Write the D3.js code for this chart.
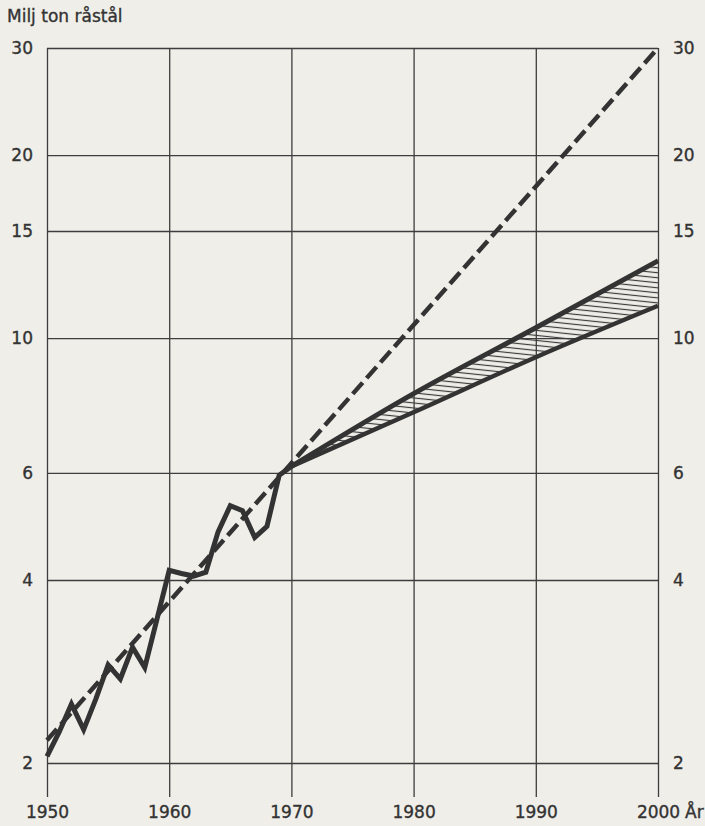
<!DOCTYPE html>
<html>
<head>
<meta charset="utf-8">
<script src="https://cdn.jsdelivr.net/npm/d3@7"></script>
<style>
  body { margin: 0; background: #efeee9; }
  text { font-family: "DejaVu Sans", sans-serif; fill: #333; stroke: #333; stroke-width: 0.35; }
  .grid line { stroke: #3d3d3d; stroke-width: 1.3; }
  .grid path { display: none; }
</style>
</head>
<body>
<div id="chart"></div>
<script>
var svgWidth = 705;
var svgHeight = 826;

// data
var actualYears = [1950, 1951, 1952, 1953, 1954, 1955, 1956, 1957, 1958, 1959,
  1960, 1961, 1962, 1963, 1964, 1965, 1966, 1967, 1968, 1969, 1970];
var actualOutput = [2.05, 2.25, 2.5, 2.27, 2.55, 2.9, 2.75, 3.1, 2.87, 3.45,
  4.15, 4.1, 4.06, 4.12, 4.8, 5.3, 5.2, 4.7, 4.9, 5.95, 6.15];

var trendYears = [1950, 2000];
var trendOutput = [2.18, 30];

var projYears = [1970, 1980, 1990, 2000];
var projHigh = [6.15, 8.1, 10.4, 13.4];
var projLow = [6.15, 7.55, 9.3, 11.3];

var xTicks = [1950, 1960, 1970, 1980, 1990, 2000];
var yTicks = [2, 4, 6, 10, 15, 20, 30];

var plotLeft = 47, plotRight = 658, plotTop = 48, plotBottom = 763, gridBottom = 797;

var svg = d3.select("#chart")
  .append("svg")
  .attr("width", svgWidth)
  .attr("height", svgHeight);

svg.append("rect")
  .attr("width", svgWidth)
  .attr("height", svgHeight)
  .attr("fill", "#efeee9");

var defs = svg.append("defs");
var pat = defs.append("pattern")
  .attr("id", "hatch")
  .attr("patternUnits", "userSpaceOnUse")
  .attr("width", 12)
  .attr("height", 5)
  .attr("patternTransform", "rotate(6)");
pat.append("line")
  .attr("x1", 0).attr("y1", 2.5)
  .attr("x2", 12).attr("y2", 2.5)
  .attr("stroke", "#3a3a3a")
  .attr("stroke-width", 1.2);

var xScale = d3.scaleLinear()
  .domain([1950, 2000])
  .range([plotLeft, plotRight]);

var yScale = d3.scaleLog()
  .domain([2, 30])
  .range([plotBottom, plotTop]);

// horizontal grid + left labels
var yAxisLeft = d3.axisLeft(yScale)
  .tickValues(yTicks)
  .tickFormat(d3.format("d"))
  .tickSize(-(plotRight - plotLeft))
  .tickPadding(14);

svg.append("g")
  .attr("class", "grid")
  .attr("transform", `translate(${plotLeft},0)`)
  .call(yAxisLeft);

// right labels
var yAxisRight = d3.axisRight(yScale)
  .tickValues(yTicks)
  .tickFormat(d3.format("d"))
  .tickSize(0)
  .tickPadding(15);

svg.append("g")
  .attr("class", "grid")
  .attr("transform", `translate(${plotRight},0)`)
  .call(yAxisRight);

// vertical grid + year labels
var xAxis = d3.axisBottom(xScale)
  .tickValues(xTicks)
  .tickFormat(d3.format("d"))
  .tickSize(-(gridBottom - plotTop))
  .tickPadding(9);

svg.append("g")
  .attr("class", "grid")
  .attr("transform", `translate(0,${gridBottom})`)
  .call(xAxis);

svg.selectAll(".grid text")
  .attr("font-family", "DejaVu Sans")
  .attr("font-size", 17)
  .attr("fill", "#333");

svg.append("text")
  .attr("x", xScale(2000) + 27)
  .attr("y", 818)
  .attr("font-size", 17)
  .text("År");

svg.append("text")
  .attr("x", 7)
  .attr("y", 22)
  .attr("font-size", 17)
  .text("Milj ton råstål");

// projection band
var projData = projYears.map((yr, i) => ({ year: yr, high: projHigh[i], low: projLow[i] }));

var band = d3.area()
  .x(d => xScale(d.year))
  .y0(d => yScale(d.low))
  .y1(d => yScale(d.high))
  .curve(d3.curveMonotoneX);

svg.append("path")
  .datum(projData)
  .attr("d", band)
  .attr("fill", "url(#hatch)");

var highLine = d3.line()
  .x(d => xScale(d.year))
  .y(d => yScale(d.high))
  .curve(d3.curveMonotoneX);

var lowLine = d3.line()
  .x(d => xScale(d.year))
  .y(d => yScale(d.low))
  .curve(d3.curveMonotoneX);

svg.append("path")
  .datum(projData)
  .attr("d", highLine)
  .attr("fill", "none")
  .attr("stroke", "#333")
  .attr("stroke-width", 5);

svg.append("path")
  .datum(projData)
  .attr("d", lowLine)
  .attr("fill", "none")
  .attr("stroke", "#333")
  .attr("stroke-width", 4.5);

// trend (dashed)
var trendData = trendYears.map((yr, i) => ({ year: yr, value: trendOutput[i] }));
var valueLine = d3.line()
  .x(d => xScale(d.year))
  .y(d => yScale(d.value));

svg.append("path")
  .datum(trendData)
  .attr("d", valueLine)
  .attr("fill", "none")
  .attr("stroke", "#333")
  .attr("stroke-width", 4.5)
  .attr("stroke-dasharray", "15,6");

// actual production
var actualData = actualYears.map((yr, i) => ({ year: yr, value: actualOutput[i] }));

svg.append("path")
  .datum(actualData)
  .attr("d", valueLine)
  .attr("fill", "none")
  .attr("stroke", "#333")
  .attr("stroke-width", 5)
  .attr("stroke-linejoin", "miter");
</script>
</body>
</html>
